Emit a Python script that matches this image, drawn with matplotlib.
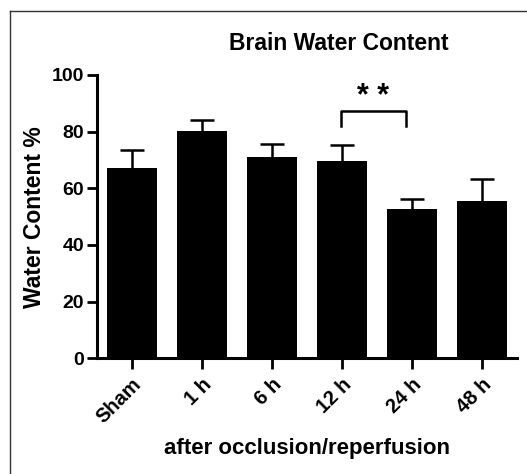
import numpy as np
import matplotlib
matplotlib.use("Agg")
import matplotlib.pyplot as plt
from matplotlib.lines import Line2D

# data
groups = ["Sham", "1 h", "6 h", "12 h", "24 h", "48 h"]
means = [67.1, 80.3, 71.1, 69.5, 52.7, 55.5]
errs = [6.4, 3.8, 4.6, 5.8, 3.5, 7.9]
yticks = [0, 20, 40, 60, 80, 100]
sig_pair = (3, 4)
sig_label = "* *"

plt.rcParams['font.family'] = ['Liberation Sans', 'DejaVu Sans']
plt.rcParams['font.weight'] = 'bold'

fig = plt.figure(figsize=(5.27, 4.74), dpi=100)
ax = fig.add_axes([0.1835, 0.2441, 0.7975, 0.5977])

x = np.arange(len(groups))
tops = np.array(means) + np.array(errs)
ax.bar(x, means, width=0.71, color='black', zorder=2)
# only the upper half of the error bar, as in the original
ax.vlines(x, means, tops, color='black', lw=1.8, zorder=1)
ax.hlines(tops, x - 0.17, x + 0.17, color='black', lw=1.8, zorder=1)

ax.set_xlim(-0.5, 5.5)
ax.set_ylim(0, 100)
ax.set_yticks(yticks)
ax.set_xticks(x)
ax.set_xticklabels(groups, rotation=45, ha='right', va='top',
                   rotation_mode='anchor', fontsize=14.5, fontweight='bold')
ax.tick_params(axis='y', labelsize=14, width=2, length=7, pad=2)
ax.tick_params(axis='x', width=2, length=8, pad=4)
for lab in ax.get_yticklabels():
    lab.set_fontweight('bold')

for s in ['top', 'right']:
    ax.spines[s].set_visible(False)
for s in ['left', 'bottom']:
    ax.spines[s].set_linewidth(2.2)

ax.set_ylabel("Water Content %", fontsize=16.5, fontweight='bold', labelpad=4)
ax.set_xlabel("after occlusion/reperfusion", fontsize=16, fontweight='bold',
              labelpad=8)

# significance bracket
x1, x2 = sig_pair[0] - 0.01, sig_pair[1] - 0.09
ax.plot([x1, x1, x2, x2], [82.0, 87.3, 87.3, 82.0], color='black', lw=1.8,
        clip_on=False)
ax.text((x1 + x2) / 2, 86.8, sig_label, ha='center', va='bottom',
        fontsize=22, fontweight='bold')

fig.text(339 / 527, 1 - 43 / 474, "Brain Water Content", ha='center',
         va='center', fontsize=16.5, fontweight='bold')

# thin frame around the panel
fig.add_artist(Line2D([10 / 527, 10 / 527], [0, 1 - 11 / 474],
                      color='#333333', lw=1.0, transform=fig.transFigure))
fig.add_artist(Line2D([10 / 527, 1], [1 - 11 / 474, 1 - 11 / 474],
                      color='#333333', lw=1.0, transform=fig.transFigure))

fig.savefig("out.png", dpi=100)
